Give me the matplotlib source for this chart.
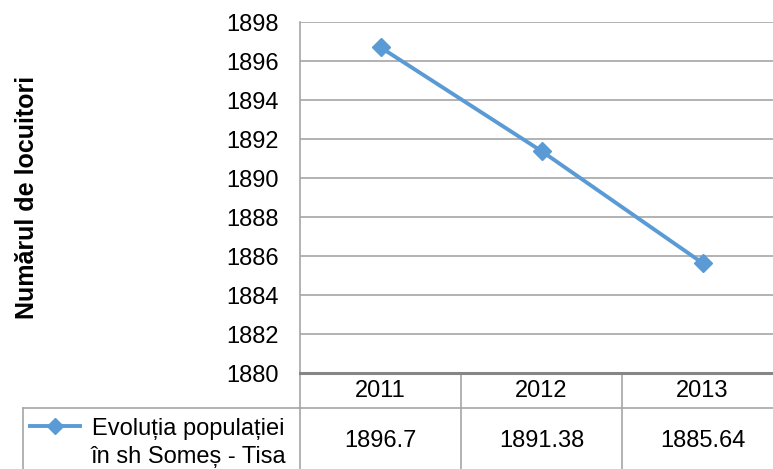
import numpy as np
import matplotlib.pyplot as plt
import matplotlib.transforms as mtransforms

# data
years = ['2011', '2012', '2013']
populatie = [1896.7, 1891.38, 1885.64]
valori_tabel = ['1896.7', '1891.38', '1885.64']
serie = 'Evoluția populației\nîn sh Someș - Tisa'
y_ticks = [1880, 1882, 1884, 1886, 1888, 1890, 1892, 1894, 1896, 1898]

plt.rcParams['font.family'] = ['Liberation Sans', 'DejaVu Sans']
fs = 17

W, H = 773, 469
fig = plt.figure(figsize=(W / 100, H / 100), dpi=100)

# plot area in pixels: x 300..783 (right side cropped), y 22..373
left, right, top, bottom = 300, 783, 22, 373
ax = fig.add_axes([left / W, (H - bottom) / H, (right - left) / W, (bottom - top) / H])

blue = '#5B9BD5'
grid = '#A6A6A6'
axis_col = '#868686'

x = np.arange(len(years))
ax.plot(x, populatie, color=blue, lw=2.8, marker='D', ms=9, zorder=3)

ax.set_xlim(-0.5, len(years) - 0.5)
ax.set_ylim(y_ticks[0], y_ticks[-1])
ax.set_yticks(y_ticks)
ax.set_yticklabels([str(t) for t in y_ticks])
ax.set_xticks([])
ax.tick_params(axis='y', length=0, pad=15, labelsize=fs)
ax.yaxis.grid(True, color=grid, lw=1.2)
ax.set_axisbelow(True)

for s in ['top', 'right']:
    ax.spines[s].set_visible(False)
ax.spines['left'].set_color(grid)
ax.spines['left'].set_linewidth(1.2)
ax.spines['bottom'].set_color(axis_col)
ax.spines['bottom'].set_linewidth(2.2)

fig.text(27 / W, (H - 197) / H, 'Numărul de locuitori', rotation=90,
         ha='center', va='center', fontsize=18, fontweight='bold')

# data table under the axis
px = 1.0 / (bottom - top)  # one pixel in axes-fraction units
trans = mtransforms.blended_transform_factory(ax.transData, ax.transAxes)
row_sep = -(408 - bottom) * px
tab_bot = -(H - bottom + 5) * px

line_kw = dict(color=grid, lw=1.2, clip_on=False, transform=trans)
for b in np.arange(-0.5, len(years) - 0.5):
    ax.plot([b, b], [0, tab_bot], **line_kw)
ax.plot([-0.5, len(years) - 0.5], [row_sep, row_sep], **line_kw)

for i, (yr, val) in enumerate(zip(years, valori_tabel)):
    ax.text(i, -(391 - bottom) * px, yr, transform=trans, ha='center',
            va='center', fontsize=fs)
    ax.text(i, -(441 - bottom) * px, val, transform=trans, ha='center',
            va='center', fontsize=fs)

# legend cell on the left
fy = lambda yp: (H - yp) / H
fx = lambda xp: xp / W
fig.add_artist(plt.Line2D([fx(23), fx(300)], [fy(408), fy(408)], color=grid, lw=1.2))
fig.add_artist(plt.Line2D([fx(23), fx(23)], [fy(408), fy(H + 5)], color=grid, lw=1.2))
fig.add_artist(plt.Line2D([fx(30), fx(80)], [fy(426), fy(426)], color=blue, lw=2.8))
fig.add_artist(plt.Line2D([fx(55)], [fy(426)], color=blue, marker='D', ms=8))
fig.text(fx(188), fy(443), serie, ha='center', va='center', fontsize=fs,
         multialignment='center', linespacing=1.3)

fig.savefig('out.png', dpi=100)
